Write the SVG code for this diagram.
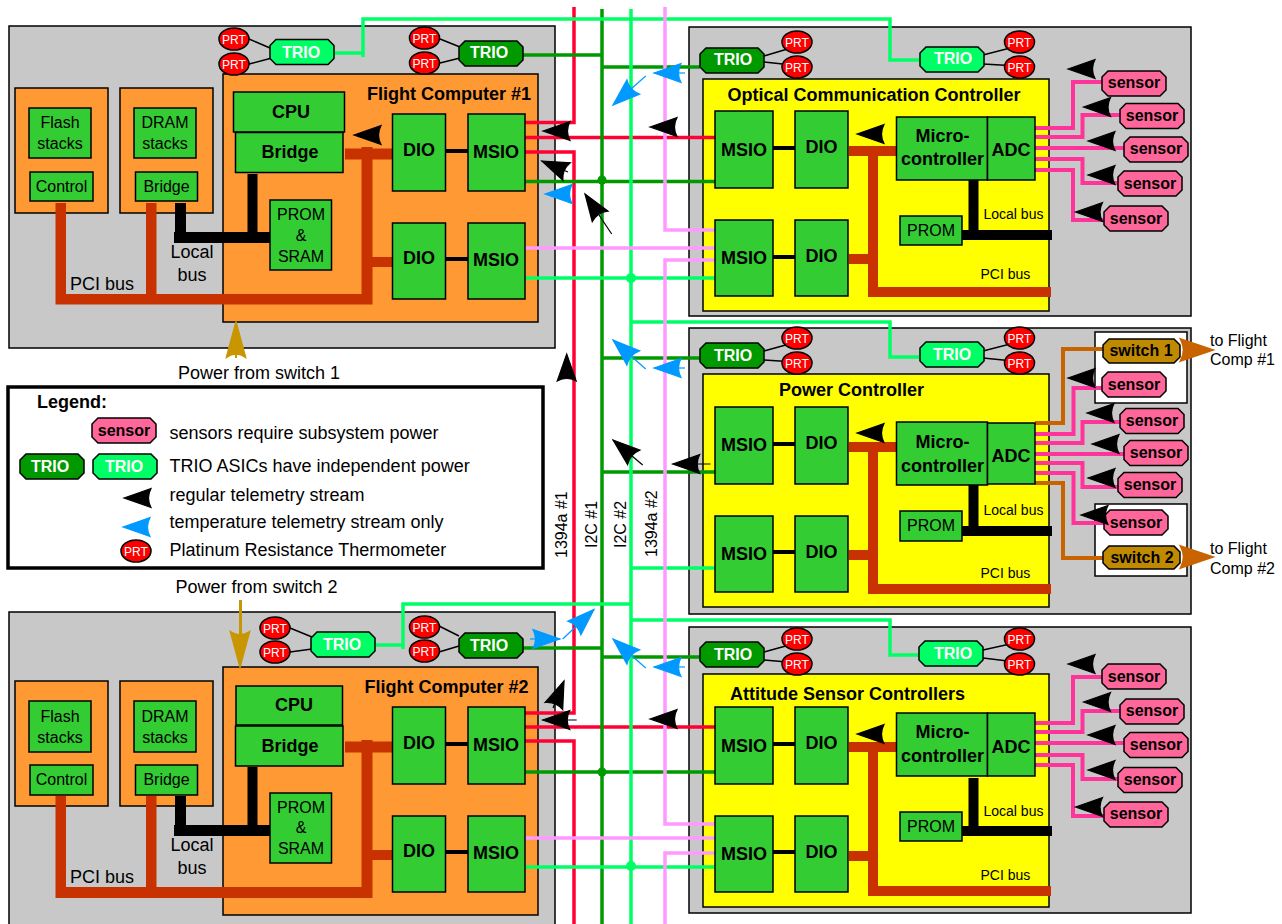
<svg xmlns="http://www.w3.org/2000/svg" width="1282" height="924" viewBox="0 0 1282 924">
<style>
text{font-family:"Liberation Sans",Arial,sans-serif;font-size:16px;fill:#000}
.b{font-weight:bold}.m{text-anchor:middle}.s{font-size:14px}.l{font-size:18px}.t{font-size:18px}.h{font-size:18px;font-weight:bold;text-anchor:middle}
.w{fill:#fff;font-weight:bold;text-anchor:middle}.p{fill:#fff;font-size:12px;text-anchor:middle}
.gray{fill:#c8c8c8;stroke:#000;stroke-width:1.5}.or{fill:#ff9933;stroke:#000;stroke-width:1.5}.ye{fill:#ff0;stroke:#000;stroke-width:1.5}
.gr{fill:#33cc33;stroke:#000;stroke-width:1.5}.wh{fill:#fff;stroke:#000;stroke-width:1.5}
.leg{fill:#fff;stroke:#000;stroke-width:3.5}
.sen{fill:#ff6699;stroke:#000;stroke-width:1.5}.sw{fill:#c08a00;stroke:#000;stroke-width:1.5}.tl{fill:#00ff66;stroke:#000;stroke-width:1.5}.td{fill:#009900;stroke:#000;stroke-width:1.5}
.prt{fill:#ff0000;stroke:#000;stroke-width:1.5}
.c{fill:none;stroke-width:3.5}.red{stroke:#ff0033}.dg{stroke:#009900}.lg{stroke:#00ff66}.pk{stroke:#ff99ff}.sl{stroke:#ff3399;stroke-width:4}.br{stroke:#c86400;stroke-width:4}
.pci{fill:#c83200}.loc{fill:#000}.thin{stroke:#000;stroke-width:1.5;fill:none}.bl{stroke:#000;stroke-width:4;fill:none}
.ak{fill:#000;stroke:#000;stroke-width:1.2}.ab{fill:#0099ff;stroke:#0099ff;stroke-width:1.2}
.ag{fill:#c89600;stroke:#c89600;stroke-width:1.5}.ao{fill:#c86400;stroke:#c86400;stroke-width:1.5}
</style>
<defs>
<polygon id="oct" points="6,0 58,0 64,6 64,19 58,25 6,25 0,19 0,6"/>
<path id="h" d="M0 0L27-9.500Q22 0 27 9.500Z"/>
</defs>

<g id="panels">
<rect class="gray" x="9" y="26" width="546" height="322"/>
<rect class="gray" x="9" y="612" width="546" height="320"/>
<rect class="gray" x="689" y="27" width="502" height="289"/>
<rect class="gray" x="689" y="328" width="502" height="286"/>
<rect class="gray" x="689" y="627" width="502" height="286"/>
<rect class="or" x="223" y="74" width="315" height="248"/>
<rect class="or" x="223" y="667" width="315" height="248"/>
<rect class="ye" x="703" y="79" width="346" height="232"/>
<rect class="ye" x="703" y="374" width="346" height="233"/>
<rect class="ye" x="703" y="674" width="346" height="233"/>
<rect class="wh" x="1095" y="332" width="92" height="71"/>
<rect class="wh" x="1095" y="504" width="92" height="72"/>
</g>

<g id="memory-boxes">
<rect class="or" x="15" y="88" width="93" height="125"/><rect class="or" x="120" y="88" width="93" height="125"/>
<rect class="or" x="15" y="681" width="93" height="125"/><rect class="or" x="120" y="681" width="93" height="125"/>
</g>

<g id="connectors">
<g id="buses">
<path class="c red" d="M574 7V122.500H525M525 137.500H715M525 152H574V713H525M525 727H715M525 741H574V924"/>
<path class="c dg" d="M602 9V924M522 55H602M602 67H700M525 181.500H715M602 358H700M602 472H715M522 648H602M602 657H700M525 772H715"/>
<path class="c lg" d="M631 9V924M334 53H363M363 57V19H890V60H920M525 278H715M631 322H890V357H920M631 568H715M403 649V604H631M375 645H403M631 620H890V655H919M525 867H715"/>
<path class="c pk" d="M665 7V230H715M525 248H715M715 260H665V824H715M525 838H715M715 853H665V924"/>
<circle cx="602" cy="180" r="4.500" fill="#009900"/><circle cx="631" cy="278" r="5" fill="#00ff66"/>
<circle cx="602" cy="772" r="4.500" fill="#009900"/><circle cx="631" cy="866" r="5" fill="#00ff66"/>
</g>
<g id="sensor-lines">
<path class="c sl" d="M1035 128H1073V82H1102M1035 137H1082.500V115H1120M1035 148H1124M1035 159H1082.500V183H1118M1035 170H1073V220H1104"/>
<path class="c sl" d="M1035 434H1073.500V388H1102M1035 443H1082.500V422H1120M1035 454H1124M1035 463H1082.500V487H1118M1035 473H1073.500V523H1104"/>
<path class="c sl" d="M1035 723H1073V677H1102M1035 732H1082.500V711H1120M1035 743H1124M1035 755H1082.500V779H1118M1035 765H1073V816H1104"/>
<path class="c br" d="M1035 423H1063V349H1103M1035 483H1063V558H1103"/>
</g>
<g id="pci-buses">
<path class="pci" d="M55.500 203H66V294H146V203H156.500V294H361.500V147H372.500V148.500H393V159.500H372.500V257H393V267H372.500V304.500H55.500Z"/>
<rect class="pci" x="345" y="148.500" width="20" height="11"/>
<path class="pci" d="M55.500 796H66V887H146V796H156.500V887H361.500V740H372.500V741.500H393V752.500H372.500V850H393V860H372.500V898H55.500Z"/>
<rect class="pci" x="345" y="741.500" width="20" height="11"/>
<path class="pci" d="M849 146H896V156H878V287H1051V297H868V264H849V254H868V156H849Z"/>
<path class="pci" d="M849 442H896V452H878V584H1051V594H868V560H849V550H868V452H849Z"/>
<path class="pci" d="M849 742H896V752H878V886H1051V896H868V861H849V851H868V752H849Z"/>
</g>
<g id="local-buses">
<path class="loc" d="M175 203H186V232H247.500V174H257.500V232H270V243H174V232H175Z"/>
<path class="loc" d="M175 796H186V825H247.500V767H257.500V825H270V836H174V825H175Z"/>
<path class="loc" d="M968.500 178H978.500V230H1052V240H962V230H968.500Z"/>
<path class="loc" d="M968.500 485H978.500V526H1052V536H962V526H968.500Z"/>
<path class="loc" d="M968.500 778H978.500V826H1052V836H962V826H968.500Z"/>
</g>
<g id="short-links">
<path class="bl" d="M446 151H468M446 259H468M446 744H468M446 852H468M773 148H795M773 257H795M773 444H795M773 552H795M773 744H795M773 852H795"/>
<path class="thin" d="M249 39L270 48M249 64L270 58.500M440 39L460 47M440 63L460 58M811 42L764 56M811 67L764 62M1033 42L983 55M1033 67L983 64"/>
<path class="thin" d="M811 338L764 351M811 363L764 360M1033 338L983 351M1033 363L983 358"/>
<path class="thin" d="M811 639L764 652M811 664L764 660M1033 639L983 650M1033 664L983 658"/>
<path class="thin" d="M290 628L312 637M290 652L312 649M439 626L459 636M439 652L459 646"/>
</g>
</g>

<g id="nodes">
<g id="fc1-flash"><rect class="gr" x="29" y="108" width="62" height="50"/><text class="m" x="60" y="128">Flash</text><text class="m" x="60" y="149">stacks</text></g>
<g id="fc1-control"><rect class="gr" x="30" y="172" width="63" height="29"/><text class="m" x="61.500" y="192">Control</text></g>
<g id="fc1-dram"><rect class="gr" x="134" y="108" width="62" height="50"/><text class="m" x="165" y="128">DRAM</text><text class="m" x="165" y="149">stacks</text></g>
<g id="fc1-membridge"><rect class="gr" x="135.500" y="172" width="62" height="29"/><text class="m" x="166.500" y="192">Bridge</text></g>
<g id="fc1-cpu"><rect class="gr" x="233.500" y="92" width="111" height="40"/><text class="h" x="291" y="118">CPU</text></g>
<g id="fc1-bridge"><rect class="gr" x="235.500" y="132.500" width="107.500" height="40"/><text class="h" x="290" y="158">Bridge</text></g>
<g id="fc1-prom"><rect class="gr" x="270" y="200" width="61.500" height="70"/><text class="m" x="301" y="220">PROM</text><text class="m" x="301" y="241">&amp;</text><text class="m" x="301" y="262">SRAM</text></g>
<g id="fc1-dio1"><rect class="gr" x="392.500" y="114" width="53" height="77"/><text class="h" x="419" y="156">DIO</text></g>
<g id="fc1-msio1"><rect class="gr" x="468" y="114" width="57" height="77"/><text class="h" x="496" y="158">MSIO</text></g>
<g id="fc1-dio2"><rect class="gr" x="392.500" y="223" width="53" height="76"/><text class="h" x="419" y="264">DIO</text></g>
<g id="fc1-msio2"><rect class="gr" x="468" y="223" width="57" height="76"/><text class="h" x="496" y="266">MSIO</text></g>

<g id="fc2-flash"><rect class="gr" x="29" y="701" width="62" height="51"/><text class="m" x="60" y="722">Flash</text><text class="m" x="60" y="743">stacks</text></g>
<g id="fc2-control"><rect class="gr" x="30" y="765" width="63" height="30"/><text class="m" x="61.500" y="785">Control</text></g>
<g id="fc2-dram"><rect class="gr" x="134" y="701" width="62" height="51"/><text class="m" x="165" y="722">DRAM</text><text class="m" x="165" y="743">stacks</text></g>
<g id="fc2-membridge"><rect class="gr" x="135.500" y="765" width="62" height="30"/><text class="m" x="166.500" y="785">Bridge</text></g>
<g id="fc2-cpu"><rect class="gr" x="236" y="686" width="106.500" height="39"/><text class="h" x="294" y="711">CPU</text></g>
<g id="fc2-bridge"><rect class="gr" x="235.500" y="726" width="107.500" height="40"/><text class="h" x="290" y="752">Bridge</text></g>
<g id="fc2-prom"><rect class="gr" x="270" y="793" width="61.500" height="70"/><text class="m" x="301" y="813">PROM</text><text class="m" x="301" y="833">&amp;</text><text class="m" x="301" y="854">SRAM</text></g>
<g id="fc2-dio1"><rect class="gr" x="392.500" y="707" width="53" height="77"/><text class="h" x="419" y="749">DIO</text></g>
<g id="fc2-msio1"><rect class="gr" x="468" y="707" width="57" height="77"/><text class="h" x="496" y="751">MSIO</text></g>
<g id="fc2-dio2"><rect class="gr" x="392.500" y="816" width="53" height="76"/><text class="h" x="419" y="857">DIO</text></g>
<g id="fc2-msio2"><rect class="gr" x="468" y="816" width="57" height="76"/><text class="h" x="496" y="859">MSIO</text></g>

<g id="occ-msio1"><rect class="gr" x="715" y="111" width="58" height="77"/><text class="h" x="744" y="156">MSIO</text></g>
<g id="occ-dio1"><rect class="gr" x="795" y="111" width="53" height="77"/><text class="h" x="821.500" y="153">DIO</text></g>
<g id="occ-msio2"><rect class="gr" x="715" y="220" width="58" height="76"/><text class="h" x="744" y="264">MSIO</text></g>
<g id="occ-dio2"><rect class="gr" x="795" y="220" width="53" height="76"/><text class="h" x="821.500" y="262">DIO</text></g>
<g id="occ-micro"><rect class="gr" x="896.500" y="117" width="91" height="63"/><text class="h" x="942.500" y="142">Micro-</text><text class="h" x="942.500" y="165">controller</text></g>
<g id="occ-adc"><rect class="gr" x="987.500" y="117" width="47.500" height="63"/><text class="h" x="1011" y="156">ADC</text></g>
<g id="occ-prom"><rect class="gr" x="900" y="216" width="62" height="29"/><text class="m" x="931" y="236">PROM</text></g>

<g id="pwr-msio1"><rect class="gr" x="715" y="407" width="58" height="77"/><text class="h" x="744" y="451">MSIO</text></g>
<g id="pwr-dio1"><rect class="gr" x="795" y="407" width="53" height="77"/><text class="h" x="821.500" y="449">DIO</text></g>
<g id="pwr-msio2"><rect class="gr" x="715" y="516" width="58" height="76"/><text class="h" x="744" y="560">MSIO</text></g>
<g id="pwr-dio2"><rect class="gr" x="795" y="516" width="53" height="76"/><text class="h" x="821.500" y="558">DIO</text></g>
<g id="pwr-micro"><rect class="gr" x="896.500" y="422" width="91" height="63"/><text class="h" x="942.500" y="448">Micro-</text><text class="h" x="942.500" y="472">controller</text></g>
<g id="pwr-adc"><rect class="gr" x="987.500" y="423" width="47.500" height="61"/><text class="h" x="1011" y="462">ADC</text></g>
<g id="pwr-prom"><rect class="gr" x="900" y="511" width="62" height="30"/><text class="m" x="931" y="531">PROM</text></g>

<g id="att-msio1"><rect class="gr" x="715" y="707" width="58" height="77"/><text class="h" x="744" y="752">MSIO</text></g>
<g id="att-dio1"><rect class="gr" x="795" y="707" width="53" height="77"/><text class="h" x="821.500" y="749">DIO</text></g>
<g id="att-msio2"><rect class="gr" x="715" y="816" width="58" height="76"/><text class="h" x="744" y="860">MSIO</text></g>
<g id="att-dio2"><rect class="gr" x="795" y="816" width="53" height="76"/><text class="h" x="821.500" y="858">DIO</text></g>
<g id="att-micro"><rect class="gr" x="896.500" y="713" width="91" height="63"/><text class="h" x="942.500" y="738">Micro-</text><text class="h" x="942.500" y="762">controller</text></g>
<g id="att-adc"><rect class="gr" x="987.500" y="713" width="47.500" height="63"/><text class="h" x="1011" y="753">ADC</text></g>
<g id="att-prom"><rect class="gr" x="900" y="812" width="62" height="29"/><text class="m" x="931" y="832">PROM</text></g>

<g id="trios">
<g><use class="tl" href="#oct" x="270" y="39.500"/><text class="w" x="301" y="58">TRIO</text></g>
<g><use class="td" href="#oct" x="459" y="41"/><text class="w" x="489" y="58">TRIO</text></g>
<g><use class="td" href="#oct" x="700" y="48"/><text class="w" x="733" y="65">TRIO</text></g>
<g><use class="tl" href="#oct" x="920" y="47"/><text class="w" x="953" y="64">TRIO</text></g>
<g><use class="td" href="#oct" x="700" y="343"/><text class="w" x="733" y="361">TRIO</text></g>
<g><use class="tl" href="#oct" x="920" y="342"/><text class="w" x="952" y="360">TRIO</text></g>
<g><use class="td" href="#oct" x="700" y="642"/><text class="w" x="733" y="660">TRIO</text></g>
<g><use class="tl" href="#oct" x="919" y="641"/><text class="w" x="953" y="659">TRIO</text></g>
<g><use class="tl" href="#oct" x="311" y="632"/><text class="w" x="342" y="650">TRIO</text></g>
<g><use class="td" href="#oct" x="459" y="633"/><text class="w" x="489" y="651">TRIO</text></g>
</g>

<g id="prts">
<g><ellipse class="prt" cx="234" cy="39" rx="15" ry="11"/><text class="p" x="234" y="43.500">PRT</text></g>
<g><ellipse class="prt" cx="234" cy="64" rx="15" ry="11"/><text class="p" x="234" y="68.500">PRT</text></g>
<g><ellipse class="prt" cx="424.500" cy="38" rx="15" ry="11"/><text class="p" x="424.500" y="42.500">PRT</text></g>
<g><ellipse class="prt" cx="424.500" cy="63" rx="15" ry="11"/><text class="p" x="424.500" y="67.500">PRT</text></g>
<g><ellipse class="prt" cx="797" cy="42" rx="15" ry="11"/><text class="p" x="797" y="46.500">PRT</text></g>
<g><ellipse class="prt" cx="797" cy="67" rx="15" ry="11"/><text class="p" x="797" y="71.500">PRT</text></g>
<g><ellipse class="prt" cx="1019.500" cy="42" rx="15" ry="11"/><text class="p" x="1019.500" y="46.500">PRT</text></g>
<g><ellipse class="prt" cx="1019.500" cy="67" rx="15" ry="11"/><text class="p" x="1019.500" y="71.500">PRT</text></g>
<g><ellipse class="prt" cx="797" cy="338" rx="15" ry="11"/><text class="p" x="797" y="342.500">PRT</text></g>
<g><ellipse class="prt" cx="797" cy="363" rx="15" ry="11"/><text class="p" x="797" y="367.500">PRT</text></g>
<g><ellipse class="prt" cx="1019.500" cy="338" rx="15" ry="11"/><text class="p" x="1019.500" y="342.500">PRT</text></g>
<g><ellipse class="prt" cx="1019.500" cy="363" rx="15" ry="11"/><text class="p" x="1019.500" y="367.500">PRT</text></g>
<g><ellipse class="prt" cx="797" cy="639" rx="15" ry="11"/><text class="p" x="797" y="643.500">PRT</text></g>
<g><ellipse class="prt" cx="797" cy="664" rx="15" ry="11"/><text class="p" x="797" y="668.500">PRT</text></g>
<g><ellipse class="prt" cx="1019.500" cy="639" rx="15" ry="11"/><text class="p" x="1019.500" y="643.500">PRT</text></g>
<g><ellipse class="prt" cx="1019.500" cy="664" rx="15" ry="11"/><text class="p" x="1019.500" y="668.500">PRT</text></g>
<g><ellipse class="prt" cx="275" cy="628" rx="15" ry="11"/><text class="p" x="275" y="632.500">PRT</text></g>
<g><ellipse class="prt" cx="275" cy="652" rx="15" ry="11"/><text class="p" x="275" y="656.500">PRT</text></g>
<g><ellipse class="prt" cx="424.500" cy="627" rx="15" ry="11"/><text class="p" x="424.500" y="631.500">PRT</text></g>
<g><ellipse class="prt" cx="424.500" cy="651" rx="15" ry="11"/><text class="p" x="424.500" y="655.500">PRT</text></g>
</g>

<g id="sensors">
<g><use class="sen" href="#oct" x="1102" y="71"/><text class="b m" x="1134" y="88">sensor</text></g>
<g><use class="sen" href="#oct" x="1120" y="103.500"/><text class="b m" x="1152" y="121">sensor</text></g>
<g><use class="sen" href="#oct" x="1124" y="137"/><text class="b m" x="1156" y="154">sensor</text></g>
<g><use class="sen" href="#oct" x="1118" y="171"/><text class="b m" x="1150" y="189">sensor</text></g>
<g><use class="sen" href="#oct" x="1104" y="206"/><text class="b m" x="1136" y="224">sensor</text></g>
<g id="switch1"><polygon class="sw" points="1109,339 1174,339 1180,345 1180,357 1174,363 1109,363 1103,357 1103,345"/><text class="b m" x="1141" y="356">switch 1</text></g>
<g><use class="sen" href="#oct" x="1102" y="372"/><text class="b m" x="1134" y="390">sensor</text></g>
<g><use class="sen" href="#oct" x="1120" y="408.500"/><text class="b m" x="1152" y="426">sensor</text></g>
<g><use class="sen" href="#oct" x="1124" y="440.500"/><text class="b m" x="1156" y="458">sensor</text></g>
<g><use class="sen" href="#oct" x="1118" y="472.500"/><text class="b m" x="1150" y="490">sensor</text></g>
<g><use class="sen" href="#oct" x="1104" y="510"/><text class="b m" x="1136" y="528">sensor</text></g>
<g id="switch2"><polygon class="sw" points="1109,546 1174,546 1180,552 1180,563 1174,569 1109,569 1103,563 1103,552"/><text class="b m" x="1142" y="563">switch 2</text></g>
<g><use class="sen" href="#oct" x="1102" y="664"/><text class="b m" x="1134" y="682">sensor</text></g>
<g><use class="sen" href="#oct" x="1120" y="699"/><text class="b m" x="1152" y="716">sensor</text></g>
<g><use class="sen" href="#oct" x="1124" y="732.500"/><text class="b m" x="1156" y="750">sensor</text></g>
<g><use class="sen" href="#oct" x="1118" y="767.500"/><text class="b m" x="1150" y="785">sensor</text></g>
<g><use class="sen" href="#oct" x="1104" y="802"/><text class="b m" x="1136" y="819">sensor</text></g>
</g>

<g id="legend">
<rect class="leg" x="8" y="387" width="535" height="181"/>
<text class="b t" x="37" y="408">Legend:</text>
<use class="sen" href="#oct" x="92" y="418"/><text class="b m" x="124" y="436">sensor</text>
<text class="t" x="169.500" y="439">sensors require subsystem power</text>
<use class="td" href="#oct" x="20" y="454"/><text class="w" x="50" y="472">TRIO</text>
<use class="tl" href="#oct" x="93" y="454"/><text class="w" x="124" y="472">TRIO</text>
<text class="t" x="169.500" y="472">TRIO ASICs have independent power</text>
<use class="ak" href="#h" x="124" y="498"/>
<text class="t" x="169.500" y="501">regular telemetry stream</text>
<use class="ab" href="#h" x="123" y="527"/>
<text class="t" x="169.500" y="528">temperature telemetry stream only</text>
<ellipse class="prt" cx="136" cy="551" rx="15" ry="11"/><text class="p" x="136" y="555.500">PRT</text>
<text class="t" x="169.500" y="556">Platinum Resistance Thermometer</text>
</g>
</g>

<g id="labels">
<text class="b t" x="367" y="100">Flight Computer #1</text>
<text class="b t" x="364.500" y="693">Flight Computer #2</text>
<text class="b t" x="727.500" y="101">Optical Communication Controller</text>
<text class="b t" x="779" y="396">Power Controller</text>
<text class="b t" x="730" y="700">Attitude Sensor Controllers</text>
<text class="l m" x="192" y="258">Local</text><text class="l m" x="192" y="281">bus</text>
<text class="l" x="70" y="290">PCI bus</text>
<text class="l m" x="192" y="851">Local</text><text class="l m" x="192" y="874">bus</text>
<text class="l" x="70" y="883">PCI bus</text>
<text class="s" x="983.500" y="219">Local bus</text><text class="s" x="980.500" y="279">PCI bus</text>
<text class="s" x="983.500" y="515">Local bus</text><text class="s" x="980.500" y="578">PCI bus</text>
<text class="s" x="983.500" y="816">Local bus</text><text class="s" x="980.500" y="880">PCI bus</text>
<text class="t" x="178" y="379">Power from switch 1</text>
<text class="t" x="175.500" y="593">Power from switch 2</text>
<text x="1210" y="346">to Flight</text><text x="1210" y="365">Comp #1</text>
<text x="1210" y="554">to Flight</text><text x="1210" y="574">Comp #2</text>
<text transform="translate(567 558) rotate(-90)">1394a #1</text>
<text transform="translate(597 548) rotate(-90)">I2C #1</text>
<text transform="translate(626 548) rotate(-90)">I2C #2</text>
<text transform="translate(657 557) rotate(-90)">1394a #2</text>
</g>

<g id="power-arrows">
<g class="ag"><use href="#h" transform="translate(236 322) rotate(90) scale(1.3 1)"/><path d="M236 345V358" stroke-width="2"/></g>
<g class="ag"><use href="#h" transform="translate(240 667) rotate(-90) scale(1.3 1)"/><path d="M240.500 600V640" stroke-width="3"/></g>
<g class="ao"><use href="#h" transform="translate(1213 350) rotate(180) scale(1.2 1.15)"/><use href="#h" transform="translate(1213 557) rotate(180) scale(1.2 1.15)"/></g>
</g>

<g id="telemetry">
<g class="ak">
<use href="#h" x="1068" y="69"/><use href="#h" x="1083.500" y="107"/><use href="#h" x="1088" y="141"/><use href="#h" x="1088" y="175"/><use href="#h" x="1075.500" y="212"/>
<use href="#h" x="1068" y="378"/><use href="#h" x="1087" y="413"/><use href="#h" x="1092" y="444"/><use href="#h" x="1088" y="478"/><use href="#h" x="1081" y="515"/>
<use href="#h" x="1068" y="664"/><use href="#h" x="1083.500" y="702"/><use href="#h" x="1088" y="735"/><use href="#h" x="1088" y="770"/><use href="#h" x="1075.500" y="807"/>
<use href="#h" x="650" y="127"/><use href="#h" x="650" y="719"/>
<use href="#h" x="857" y="134"/><use href="#h" x="857" y="433"/><use href="#h" x="857" y="734"/>
<use href="#h" x="354" y="135"/>
<use href="#h" x="543" y="131"/>
<use href="#h" transform="translate(541.700 161) rotate(23)"/><path d="M541.700 161L568 172"/>
<use href="#h" transform="translate(585 194) rotate(56)"/><path d="M585 194L611.700 234"/>
<use href="#h" transform="translate(566.700 354) rotate(90)"/>
<use href="#h" transform="translate(613 440) rotate(40)"/><path d="M613 440L642.700 465"/>
<use href="#h" x="672.700" y="464"/><path d="M672.700 464H710.500"/>
<use href="#h" transform="translate(564 681) rotate(112)"/><path d="M564 681L553 708"/>
<use href="#h" x="542.700" y="720"/><path d="M542.700 720H576.700"/>
</g>
<g class="ab">
<use href="#h" x="654" y="73"/><path d="M654 73H685"/>
<use href="#h" transform="translate(613 105) rotate(-41.600)"/><path d="M613 105L645.700 76"/>
<use href="#h" x="545" y="194"/>
<use href="#h" transform="translate(613 340) rotate(41.600)"/><path d="M613 340L645.700 369"/>
<use href="#h" x="654" y="368"/><path d="M654 368H685"/>
<use href="#h" transform="translate(594 609.500) rotate(136.700)"/><path d="M594 609.500L562.700 639"/>
<use href="#h" transform="translate(560 639) rotate(180)"/><path d="M560 639H530"/>
<use href="#h" transform="translate(613 639) rotate(41.600)"/><path d="M613 639L645.700 668"/>
<use href="#h" x="654" y="667"/><path d="M654 667H685"/>
</g>
</g>
</svg>
